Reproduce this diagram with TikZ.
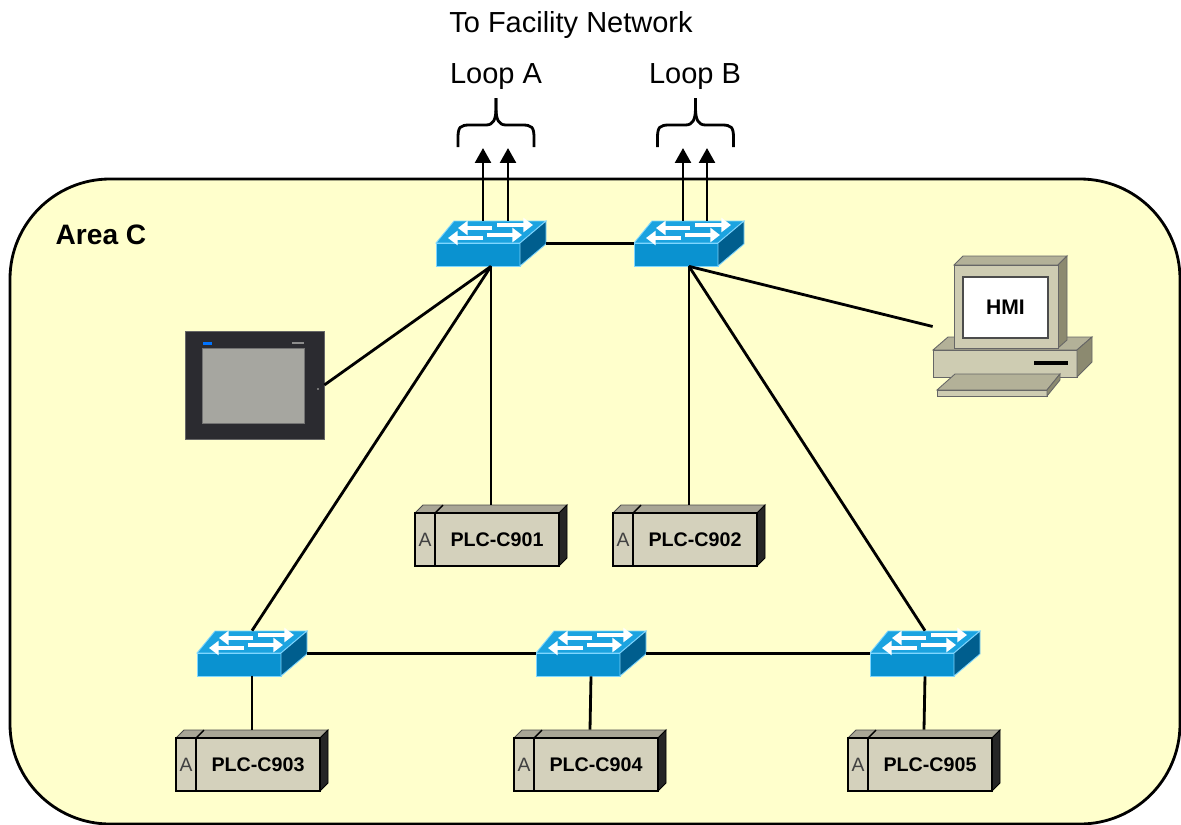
\documentclass[tikz,border=0pt]{standalone}
\usepackage{fontspec}
\setmainfont{Liberation Sans}
\usetikzlibrary{arrows.meta}
\definecolor{areaFill}{HTML}{FFFFCC}
\definecolor{swTop}{HTML}{1BA3E0}
\definecolor{swFront}{HTML}{0A92D0}
\definecolor{swSide}{HTML}{005E8E}
\definecolor{swEdge}{HTML}{7FD6FF}
\definecolor{plcFront}{HTML}{D4D1BC}
\definecolor{plcTop}{HTML}{A9A696}
\definecolor{pcLight}{HTML}{CECCB2}
\definecolor{pcMid}{HTML}{B3B198}
\definecolor{pcDark}{HTML}{8C8A70}
\definecolor{panelFrame}{HTML}{2B2B30}
\definecolor{panelScreen}{HTML}{A6A6A0}
\tikzset{
  swtop/.style={fill=swTop, draw=swEdge, line width=0.5pt},
  swfront/.style={fill=swFront, draw=swEdge, line width=0.5pt},
  swside/.style={fill=swSide, draw=swEdge, line width=0.5pt},
  swarrow/.style={white, line width=2.6pt, -{Triangle[length=5.5pt,width=8pt]}},
  plctop/.style={fill=plcTop, draw=black!70, line width=0.5pt},
  plcfront/.style={fill=plcFront, draw=black, line width=0.7pt},
  plcside/.style={fill=black!85, draw=black, line width=0.5pt},
  plcedge/.style={draw=black, line width=0.8pt},
  plcslot/.style={inner sep=0, text=black!75, font=\fontsize{11}{11}\selectfont},
  plclabel/.style={inner sep=0, font=\fontsize{11.2}{13}\selectfont\bfseries},
  link/.style={line width=1.6pt},
  uplink/.style={line width=1.6pt, -{Triangle[length=8.5pt,width=9pt]}},
  loopbrace/.style={line width=1.6pt, line join=round},
  title/.style={inner sep=0, font=\fontsize{16.5}{19}\selectfont},
}
% switch: #1 name, #2 front top-left corner
\newcommand\DrawSwitch[2]{%
\begin{scope}[shift={#2}]
\filldraw[swtop] (0,0) -- (84,0) -- (110,-22) -- (18,-22) -- cycle;
\filldraw[swfront] (0,0) rectangle (84,23);
\filldraw[swside] (84,0) -- (110,-22) -- (110,1) -- (84,23) -- cycle;
\draw[swarrow] (56,-15) -- (22,-15);
\draw[swarrow] (61,-18) -- (97,-18);
\draw[swarrow] (47,-5) -- (12,-5);
\draw[swarrow] (51,-8) -- (86,-8);
\node[inner sep=0, minimum width=2.2cm, minimum height=0.9cm] (#1) at (55,0.5) {};
\end{scope}}
% plc: #1 name, #2 front top-left corner, #3 label
\newcommand\DrawPLC[3]{%
\begin{scope}[shift={#2}]
\filldraw[plctop] (0,0) -- (8,-8) -- (152,-8) -- (144,0) -- cycle;
\draw[plcedge] (20,0) -- (28,-8);
\filldraw[plcside] (144,0) -- (152,-8) -- (152,45) -- (144,53) -- cycle;
\filldraw[plcfront] (0,0) rectangle (144,53);
\draw[plcedge] (20,0) -- (20,53);
\node[plcslot] (#1-slot) at (10,26.5) {A};
\node[plclabel] (#1-label) at (82,26.5) {#3};
\node[inner sep=0, minimum width=3.04cm, minimum height=1.22cm] (#1) at (76,22.5) {};
\end{scope}}
% loop brace: #1 centre x
\newcommand\DrawLoopBrace[1]{%
\begin{scope}[shift={(#1,0)}]
\draw[loopbrace] (-38,147) -- (-38,138) .. controls (-38,127) and (-36,125) .. (-26,125)
  -- (-10,125) .. controls (-3,125) and (0,120) .. (0,108) -- (0,98);
\draw[loopbrace] (38,147) -- (38,138) .. controls (38,127) and (36,125) .. (26,125)
  -- (10,125) .. controls (3,125) and (0,120) .. (0,108) -- (0,98);
\end{scope}}

\begin{document}
\begin{tikzpicture}[x=0.02cm, y=-0.02cm]

\useasboundingbox (0,0) rectangle (1181,825);

% the area
\filldraw[fill=areaFill, line width=1.6pt, rounded corners=2cm] (10,179) rectangle (1180,824);
\node[inner sep=0, font=\fontsize{16}{19}\selectfont\bfseries] (areaC) at (101,235) {Area C};

% uplinks
\node[title] (facility) at (571,25) {To Facility Network};
\node[title] (loopA) at (496,77) {Loop A};
\node[title] (loopB) at (695,77) {Loop B};
\DrawLoopBrace{496}
\DrawLoopBrace{695.5}
\coordinate (upA1) at (483,148);
\coordinate (upA2) at (508,148);
\coordinate (upB1) at (683,148);
\coordinate (upB2) at (707,148);

% switches
\DrawSwitch{sw1}{(436,243)}
\DrawSwitch{sw2}{(634,243)}
\DrawSwitch{sw3}{(197,653)}
\DrawSwitch{sw4}{(536,653)}
\DrawSwitch{sw5}{(870,653)}

\foreach \u in {upA1, upA2} { \draw[uplink] (sw1.north -| \u) -- (\u); }
\foreach \u in {upB1, upB2} { \draw[uplink] (sw2.north -| \u) -- (\u); }

% plcs
\DrawPLC{plc1}{(415,513)}{PLC-C901}
\DrawPLC{plc2}{(613,513)}{PLC-C902}
\DrawPLC{plc3}{(176,738)}{PLC-C903}
\DrawPLC{plc4}{(514,738)}{PLC-C904}
\DrawPLC{plc5}{(848,738)}{PLC-C905}

% touch panel
\node[fill=panelFrame, draw=black!60, inner sep=0, minimum width=2.78cm, minimum height=2.16cm] (touch) at (254.5,385) {};
\fill[panelScreen] (202,348) rectangle (304,423);
\draw[black!55] (202,348) rectangle (304,423);
\fill[blue!55!cyan] (203,342) rectangle (212,345);
\fill[black!45] (292,342) rectangle (304,344);
\fill[black!55] (317,388) rectangle (319,390);

% hmi computer
\filldraw[fill=pcMid, draw=black!60, line width=0.5pt] (933,350) -- (948,337) -- (1092,337) -- (1077,350) -- cycle;
\filldraw[fill=pcLight, draw=black!60, line width=0.5pt] (933,350) rectangle (1077,377);
\filldraw[fill=pcDark, draw=black!60, line width=0.5pt] (1077,350) -- (1092,337) -- (1092,362) -- (1077,377) -- cycle;
\draw[line width=2pt] (1034,363) -- (1068,363);
\filldraw[fill=pcMid, draw=black!60, line width=0.5pt] (954,265) -- (963,256) -- (1067,256) -- (1058,265) -- cycle;
\filldraw[fill=pcDark, draw=black!60, line width=0.5pt] (1058,265) -- (1067,256) -- (1067,340) -- (1058,348) -- cycle;
\filldraw[fill=pcLight, draw=black!60, line width=0.5pt] (954,265) rectangle (1058,348);
\filldraw[fill=white, draw=black!70, line width=0.8pt] (963,277) rectangle (1048,338);
\filldraw[fill=pcMid, draw=black!60, line width=0.5pt] (937,390) -- (955,374) -- (1060,374) -- (1047,390) -- cycle;
\filldraw[fill=pcLight, draw=black!60, line width=0.5pt] (937,390) rectangle (1047,396);
\filldraw[fill=pcDark, draw=black!60, line width=0.5pt] (1047,390) -- (1060,374) -- (1060,380) -- (1047,396) -- cycle;
\node[inner sep=0, font=\fontsize{12}{14}\selectfont\bfseries] (hmiText) at (1005.5,307.5) {HMI};
\node[inner sep=0, minimum width=3.18cm, minimum height=2.82cm] (hmi) at (1012.5,326.5) {};

% links
\draw[link] (sw1.east) -- (sw2.west);
\draw[link] (sw1.south) -- (touch.east);
\draw[link] (sw1.south) -- (plc1.north);
\draw[link] (sw1.south) -- (sw3.north);
\draw[link] (sw2.south) -- (plc2.north);
\draw[link] (sw2.south) -- (hmi.west);
\draw[link] (sw2.south) -- (sw5.north);
\draw[link] (sw3.east) -- (sw4.west);
\draw[link] (sw4.east) -- (sw5.west);
\foreach \s in {3,4,5} { \draw[link] (sw\s.south) -- (plc\s.north); }

\end{tikzpicture}
\end{document}
